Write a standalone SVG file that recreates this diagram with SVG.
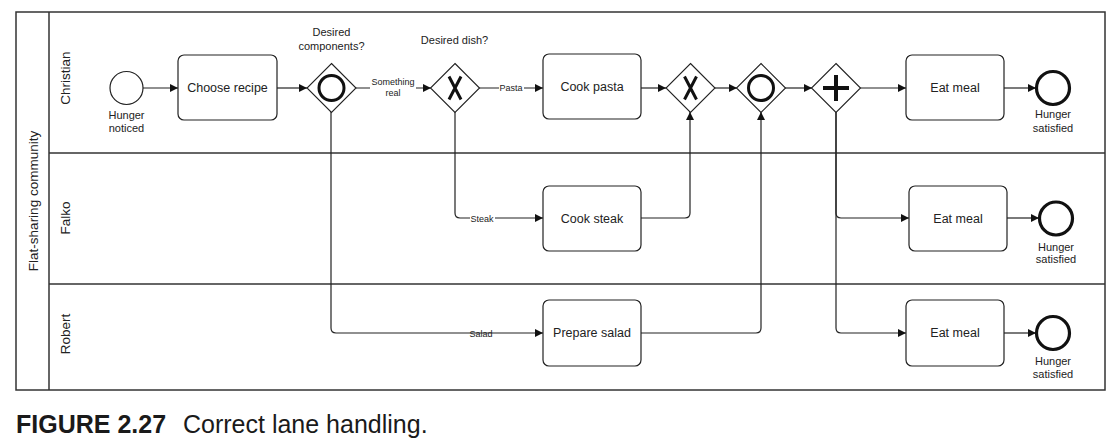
<svg xmlns="http://www.w3.org/2000/svg" width="1117" height="444" viewBox="0 0 1117 444">
<style>
text{font-family:"Liberation Sans",Arial,sans-serif;fill:#222}
.pool{fill:#fff;stroke:#333;stroke-width:1.5}
.lane{fill:none;stroke:#333;stroke-width:1.5}
.task{fill:#fff;stroke:#222;stroke-width:1.2}
.gw{fill:#fff;stroke:#222;stroke-width:1.1}
.mk{fill:none;stroke:#111;stroke-width:3}
.start{fill:#fff;stroke:#222;stroke-width:1.2}
.end{fill:#fff;stroke:#111;stroke-width:3.2}
.flow{fill:none;stroke:#222;stroke-width:1.2;marker-end:url(#arr)}
.tl{font-size:12.5px;text-anchor:middle;dominant-baseline:central}
.el{font-size:11px;text-anchor:middle}
.fl{font-size:9px;text-anchor:middle;dominant-baseline:central}
.ll{font-size:13.5px;text-anchor:middle;dominant-baseline:central}
</style>
<defs>
<marker id="arr" viewBox="0 0 10 10" refX="10" refY="5" markerWidth="9" markerHeight="8" markerUnits="userSpaceOnUse" orient="auto">
<path d="M0,0 L10,5 L0,10 Z" fill="#111"/>
</marker>
</defs>
<rect width="1117" height="444" fill="#fff"/>
<g id="pool">
<rect class="pool" x="16" y="12" width="1089" height="378"/>
<line class="lane" x1="49" y1="12" x2="49" y2="390"/>
<line class="lane" x1="49" y1="153" x2="1105" y2="153"/>
<line class="lane" x1="49" y1="284" x2="1105" y2="284"/>
<text class="ll" transform="translate(33,201) rotate(-90)">Flat-sharing community</text>
<text class="ll" transform="translate(65,78) rotate(-90)">Christian</text>
<text class="ll" transform="translate(65,218) rotate(-90)">Falko</text>
<text class="ll" transform="translate(65,334) rotate(-90)">Robert</text>
</g>
<g id="connectors">
<path class="flow" d="M143,88 H178"/>
<path class="flow" d="M277,88 H307"/>
<path class="flow" d="M356,88 H431"/>
<path class="flow" d="M479,88 H543"/>
<path class="flow" d="M641,88 H666"/>
<path class="flow" d="M715,88 H737"/>
<path class="flow" d="M785,88 H812"/>
<path class="flow" d="M860,88 H906"/>
<path class="flow" d="M1004,88 H1036"/>
<path class="flow" d="M455,112 V213 Q455,218 460,218 H543"/>
<path class="flow" d="M641,218 H685 Q690,218 690,213 V112"/>
<path class="flow" d="M331,112 V328 Q331,333 336,333 H543"/>
<path class="flow" d="M641,333 H756 Q761,333 761,328 V112"/>
<path class="flow" d="M836,112 V213 Q836,218 841,218 H909"/>
<path class="flow" d="M836,112 V328 Q836,333 841,333 H906"/>
<path class="flow" d="M1007,218 H1039"/>
<path class="flow" d="M1004,333 H1036"/>
<rect x="370" y="76" width="46" height="23" fill="#fff"/>
<text class="fl" x="393" y="82">Something</text>
<text class="fl" x="393" y="93">real</text>
<rect x="499" y="82" width="25" height="11" fill="#fff"/>
<text class="fl" x="511" y="87.5">Pasta</text>
<rect x="470" y="213" width="25" height="11" fill="#fff"/>
<text class="fl" x="482" y="218.5">Steak</text>
<text class="fl" x="481" y="333.5">Salad</text>
</g>
<g id="start">
<circle class="start" cx="126.5" cy="88" r="16.5"/>
<text class="el" x="126.5" y="119">Hunger</text>
<text class="el" x="126.5" y="132">noticed</text>
</g>
<g id="choose-recipe">
<rect class="task" x="178" y="55" width="99" height="65" rx="6"/>
<text class="tl" x="227.5" y="88">Choose recipe</text>
</g>
<g id="gw-components">
<path class="gw" d="M331.5,63.5 L356,88 L331.5,112.5 L307,88 Z"/>
<circle class="mk" cx="331.5" cy="88" r="12.5"/>
<text class="el" x="331.5" y="36">Desired</text>
<text class="el" x="331.5" y="50">components?</text>
</g>
<g id="gw-dish">
<path class="gw" d="M455,63.5 L479.5,88 L455,112.5 L430.5,88 Z"/>
<path class="mk" d="M449,76.5 L461,99.5 M461,76.5 L449,99.5"/>
<text class="el" x="454.5" y="44">Desired dish?</text>
</g>
<g id="cook-pasta">
<rect class="task" x="543" y="54" width="98" height="65" rx="6"/>
<text class="tl" x="592" y="87">Cook pasta</text>
</g>
<g id="gw-xor-join">
<path class="gw" d="M690.5,63.5 L715,88 L690.5,112.5 L666,88 Z"/>
<path class="mk" d="M684.5,76.5 L696.5,99.5 M696.5,76.5 L684.5,99.5"/>
</g>
<g id="gw-or-join">
<path class="gw" d="M761,63.5 L785.5,88 L761,112.5 L736.5,88 Z"/>
<circle class="mk" cx="761" cy="88" r="12.5"/>
</g>
<g id="gw-and">
<path class="gw" d="M836,63.5 L860.5,88 L836,112.5 L811.5,88 Z"/>
<path class="mk" style="stroke-width:4" d="M836,75 V101 M823,88 H849"/>
</g>
<g id="eat-meal-christian">
<rect class="task" x="906" y="55" width="98" height="65" rx="6"/>
<text class="tl" x="955" y="88">Eat meal</text>
</g>
<g id="end-christian">
<circle class="end" cx="1053" cy="88" r="16.5"/>
<text class="el" x="1053" y="118">Hunger</text>
<text class="el" x="1053" y="132">satisfied</text>
</g>
<g id="cook-steak">
<rect class="task" x="543" y="186" width="98" height="65" rx="6"/>
<text class="tl" x="592" y="218.5">Cook steak</text>
</g>
<g id="eat-meal-falko">
<rect class="task" x="909" y="186" width="98" height="65" rx="6"/>
<text class="tl" x="958" y="218.5">Eat meal</text>
</g>
<g id="end-falko">
<circle class="end" cx="1056" cy="218.5" r="16.5"/>
<text class="el" x="1056" y="251">Hunger</text>
<text class="el" x="1056" y="263">satisfied</text>
</g>
<g id="prepare-salad">
<rect class="task" x="543" y="300" width="98" height="66" rx="6"/>
<text class="tl" x="592" y="333">Prepare salad</text>
</g>
<g id="eat-meal-robert">
<rect class="task" x="906" y="300" width="98" height="66" rx="6"/>
<text class="tl" x="955" y="333">Eat meal</text>
</g>
<g id="end-robert">
<circle class="end" cx="1053" cy="333" r="16.5"/>
<text class="el" x="1053" y="365">Hunger</text>
<text class="el" x="1053" y="378">satisfied</text>
</g>
<g id="caption">
<text x="16" y="433" style="font-size:25px;font-weight:bold;fill:#1a1a1a">FIGURE 2.27</text>
<text x="183" y="433" style="font-size:25px;fill:#1a1a1a">Correct lane handling.</text>
</g>
</svg>
